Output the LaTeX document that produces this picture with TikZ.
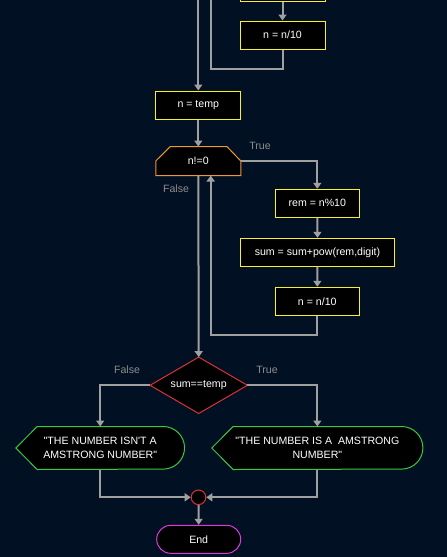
\documentclass[tikz,border=0pt]{standalone}
\usepackage{fontspec}
\newfontfamily\flowfont{Liberation Sans}
\usetikzlibrary{arrows.meta}
\definecolor{canvas}{RGB}{1,16,34}
\definecolor{procY}{RGB}{250,240,40}
\definecolor{loopO}{RGB}{240,150,50}
\definecolor{decR}{RGB}{220,50,50}
\definecolor{outG}{RGB}{60,200,60}
\definecolor{termM}{RGB}{220,60,220}
\definecolor{lineG}{RGB}{160,160,160}
\definecolor{labelG}{RGB}{140,140,140}
\pgfdeclarelayer{back}
\pgfdeclarelayer{shapes}
\pgfsetlayers{back,shapes,main}
\begin{document}
\begin{tikzpicture}[x=1pt,y=-1pt,
  txt/.style={font=\flowfont\fontsize{10.6}{14.6}\selectfont, text=white, inner sep=0pt, align=center},
  proc/.style={txt, draw=procY, fill=black, line width=1pt, minimum height=28pt},
  plain/.style={txt, minimum height=28.6pt},
  outbox/.style={txt, minimum height=42.6pt},
  decision/.style={txt, minimum width=97pt, minimum height=56pt},
  junction/.style={circle, draw=decR, fill=black, line width=1pt, minimum size=14.6pt, inner sep=0pt},
  terminal/.style={txt, draw=termM, fill=black, line width=1pt, minimum width=84pt, minimum height=28pt, rounded corners=14pt},
  lbl/.style={font=\flowfont\fontsize{10.6}{12}\selectfont, text=labelG, inner sep=0pt},
  link/.style={draw=lineG, line width=2pt},
  flow/.style={link, -{Triangle[width=8pt,length=6pt]}},
  shapeline/.style={line width=1pt, fill=black}
]
\begin{pgfonlayer}{back}
  \fill[canvas] (0,0) rectangle (447,557);
\end{pgfonlayer}
\useasboundingbox (0,0) rectangle (447,557);

% nodes
\node[proc, minimum width=85pt] (top) at (282.5,-13) {};
\node[proc, minimum width=85pt] (divA) at (282.5,35) {n = n/10};
\node[proc, minimum width=85pt] (temp) at (198.3,105) {n = temp};
\node[plain, minimum width=84.7pt] (loop) at (198.3,161) {n!=0};
\node[proc, minimum width=84pt] (rem) at (317.3,203.3) {rem = n\%10};
\node[proc, minimum width=154.4pt] (sum) at (317.5,252.3) {sum = sum+pow(rem,digit)};
\node[proc, minimum width=84pt] (divB) at (317.3,301.3) {n = n/10};
\node[decision] (cmp) at (198.7,385.3) {sum==temp};
\node[outbox, minimum width=168.3pt] (outL) at (100.2,448) {"THE NUMBER ISN'T A\\AMSTRONG NUMBER"};
\node[outbox, minimum width=210.7pt] (outR) at (317.35,448) {"THE NUMBER IS A\ \ AMSTRONG\\NUMBER"};
\node[junction] (join) at (198.5,497.3) {};
\node[terminal] (end) at (198.7,539.3) {End};

% loop limit, decision and output outlines
\begin{pgfonlayer}{shapes}
  \draw[shapeline, draw=loopO] (loop.south west) -- (loop.west)
    -- ([xshift=14.7pt]loop.north west) -- ([xshift=-14pt]loop.north east)
    -- (loop.east) -- (loop.south east) -- cycle;
  \draw[shapeline, draw=decR] (cmp.north) -- (cmp.east) -- (cmp.south) -- (cmp.west) -- cycle;
  \draw[shapeline, draw=outG] (outL.west) -- ([xshift=21.3pt]outL.north west)
    -- ([xshift=-21.3pt]outL.north east) arc[start angle=-90, end angle=90, radius=21.3]
    -- ([xshift=21.3pt]outL.south west) -- cycle;
  \draw[shapeline, draw=outG] (outR.west) -- ([xshift=21.3pt]outR.north west)
    -- ([xshift=-21.3pt]outR.north east) arc[start angle=-90, end angle=90, radius=21.3]
    -- ([xshift=21.3pt]outR.south west) -- cycle;
\end{pgfonlayer}

% free ends above the visible area
\coordinate (inA) at (198.3,-6);
\coordinate (outA) at (210.7,-6);

% connectors
\draw[flow] (inA) -- (temp.north);
\draw[flow] (top.south) -- (divA.north);
\draw[link] (divA.south) -- ++(0,19.7) -| (outA);
\draw[flow] (temp.south) -- (loop.north);
\draw[flow] (loop.east) -| (rem.north);
\draw[flow] (rem.south) -- (sum.north);
\draw[flow] (sum.south) -- (divB.north);
\draw[flow] (divB.south) -- ++(0,19) -| ([xshift=12.4pt]loop.south);
\draw[flow] (loop.south) -- (cmp.north);
\draw[flow] (cmp.west) -| (outL.north);
\draw[flow] (cmp.east) -| (outR.north);
\draw[flow] (outL.south) |- (join.west);
\draw[flow] (outR.south) |- (join.east);
\draw[flow] (join.south) -- (end.north);

% branch labels
\node[lbl] (tA) at (260,146) {True};
\node[lbl] (fA) at (176,188.3) {False};
\node[lbl] (fB) at (127,370) {False};
\node[lbl] (tB) at (267,370) {True};
\end{tikzpicture}
\end{document}
